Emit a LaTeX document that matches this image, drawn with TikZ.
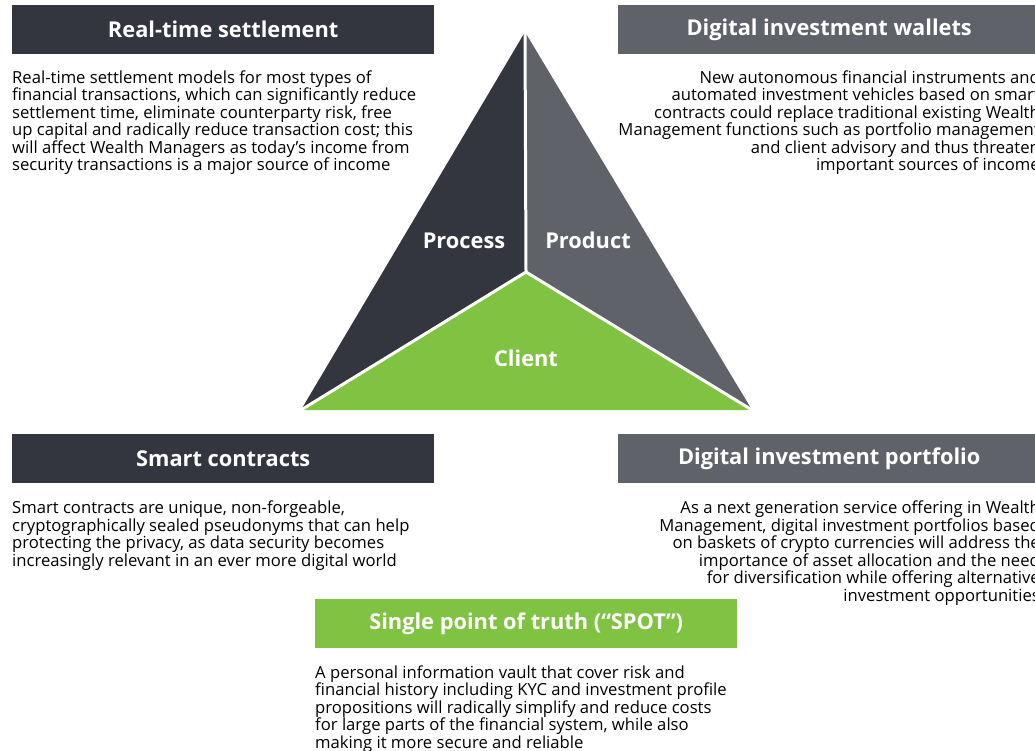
\documentclass[tikz,border=0pt]{standalone}
\usepackage{fontspec}
\setmainfont{Open Sans}
\definecolor{darkslate}{HTML}{34363F}
\definecolor{midgray}{HTML}{5F6269}
\definecolor{leafgreen}{HTML}{80C342}
\begin{document}
\begin{tikzpicture}[x=1pt,y=-1pt,
  head/.style={minimum width=422pt, minimum height=49pt, inner sep=0pt,
    text=white, font=\bfseries\fontsize{21.8}{24}\selectfont},
  body/.style={inner sep=0pt, font=\fontsize{16.65}{17.5}\selectfont, text=black},
  tlabel/.style={inner sep=0pt, text=white, font=\bfseries\fontsize{21.8}{24}\selectfont},
  sep/.style={white, line width=3pt, line cap=round}]
\useasboundingbox (0,0) rectangle (1035,751);
\clip (0,0) rectangle (1035,751);

% central triangle
\coordinate (apex) at (525,32);
\coordinate (bl) at (301,410);
\coordinate (br) at (752,410);
\coordinate (mid) at (526,272);
\fill[darkslate] (apex) -- (mid) -- (bl) -- cycle;
\fill[midgray] (apex) -- (br) -- (mid) -- cycle;
\fill[leafgreen] (bl) -- (mid) -- (br) -- cycle;
\draw[sep] (apex) -- (mid);
\draw[sep] (bl) -- (mid) -- (br);
\node[tlabel] (process) at (464,240.5) {Process};
\node[tlabel] (product) at (588,240.5) {Product};
\node[tlabel] (client) at (526,358.5) {Client};

% headers
\node[head, fill=darkslate, anchor=north west] (h1) at (12,5) {Real-time settlement};
\node[head, fill=midgray, anchor=north west] (h2) at (618,5) {Digital investment wallets};
\node[head, fill=darkslate, anchor=north west] (h3) at (12,434) {Smart contracts};
\node[head, fill=midgray, anchor=north west] (h4) at (618,434) {Digital investment portfolio};
\node[head, fill=leafgreen, anchor=north west] (h5) at (315,599) {Single point of truth (“SPOT”)};

% descriptions (anchored at the baseline of their last line)
\node[body, align=left, anchor=base west] (t1) at (12,170.8) {Real-time settlement models for most types of\\
financial transactions, which can significantly reduce\\
settlement time, eliminate counterparty risk, free\\
up capital and radically reduce transaction cost; this\\
will affect Wealth Managers as today’s income from\\
security transactions is a major source of income};

\node[body, align=right, anchor=base east] (t2) at (1040,170.8) {New autonomous financial instruments and\\
automated investment vehicles based on smart\\
contracts could replace traditional existing Wealth\\
Management functions such as portfolio management\\
and client advisory and thus threaten\\
important sources of income};

\node[body, align=left, anchor=base west] (t3) at (12,566) {Smart contracts are unique, non-forgeable,\\
cryptographically sealed pseudonyms that can help\\
protecting the privacy, as data security becomes\\
increasingly relevant in an ever more digital world};

\node[body, align=right, anchor=base east] (t4) at (1040,601) {As a next generation service offering in Wealth\\
Management, digital investment portfolios based\\
on baskets of crypto currencies will address the\\
importance of asset allocation and the need\\
for diversification while offering alternative\\
investment opportunities};

\node[body, align=left, anchor=base west] (t5) at (315,748) {A personal information vault that cover risk and\\
financial history including KYC and investment profile\\
propositions will radically simplify and reduce costs\\
for large parts of the financial system, while also\\
making it more secure and reliable};
\end{tikzpicture}
\end{document}
